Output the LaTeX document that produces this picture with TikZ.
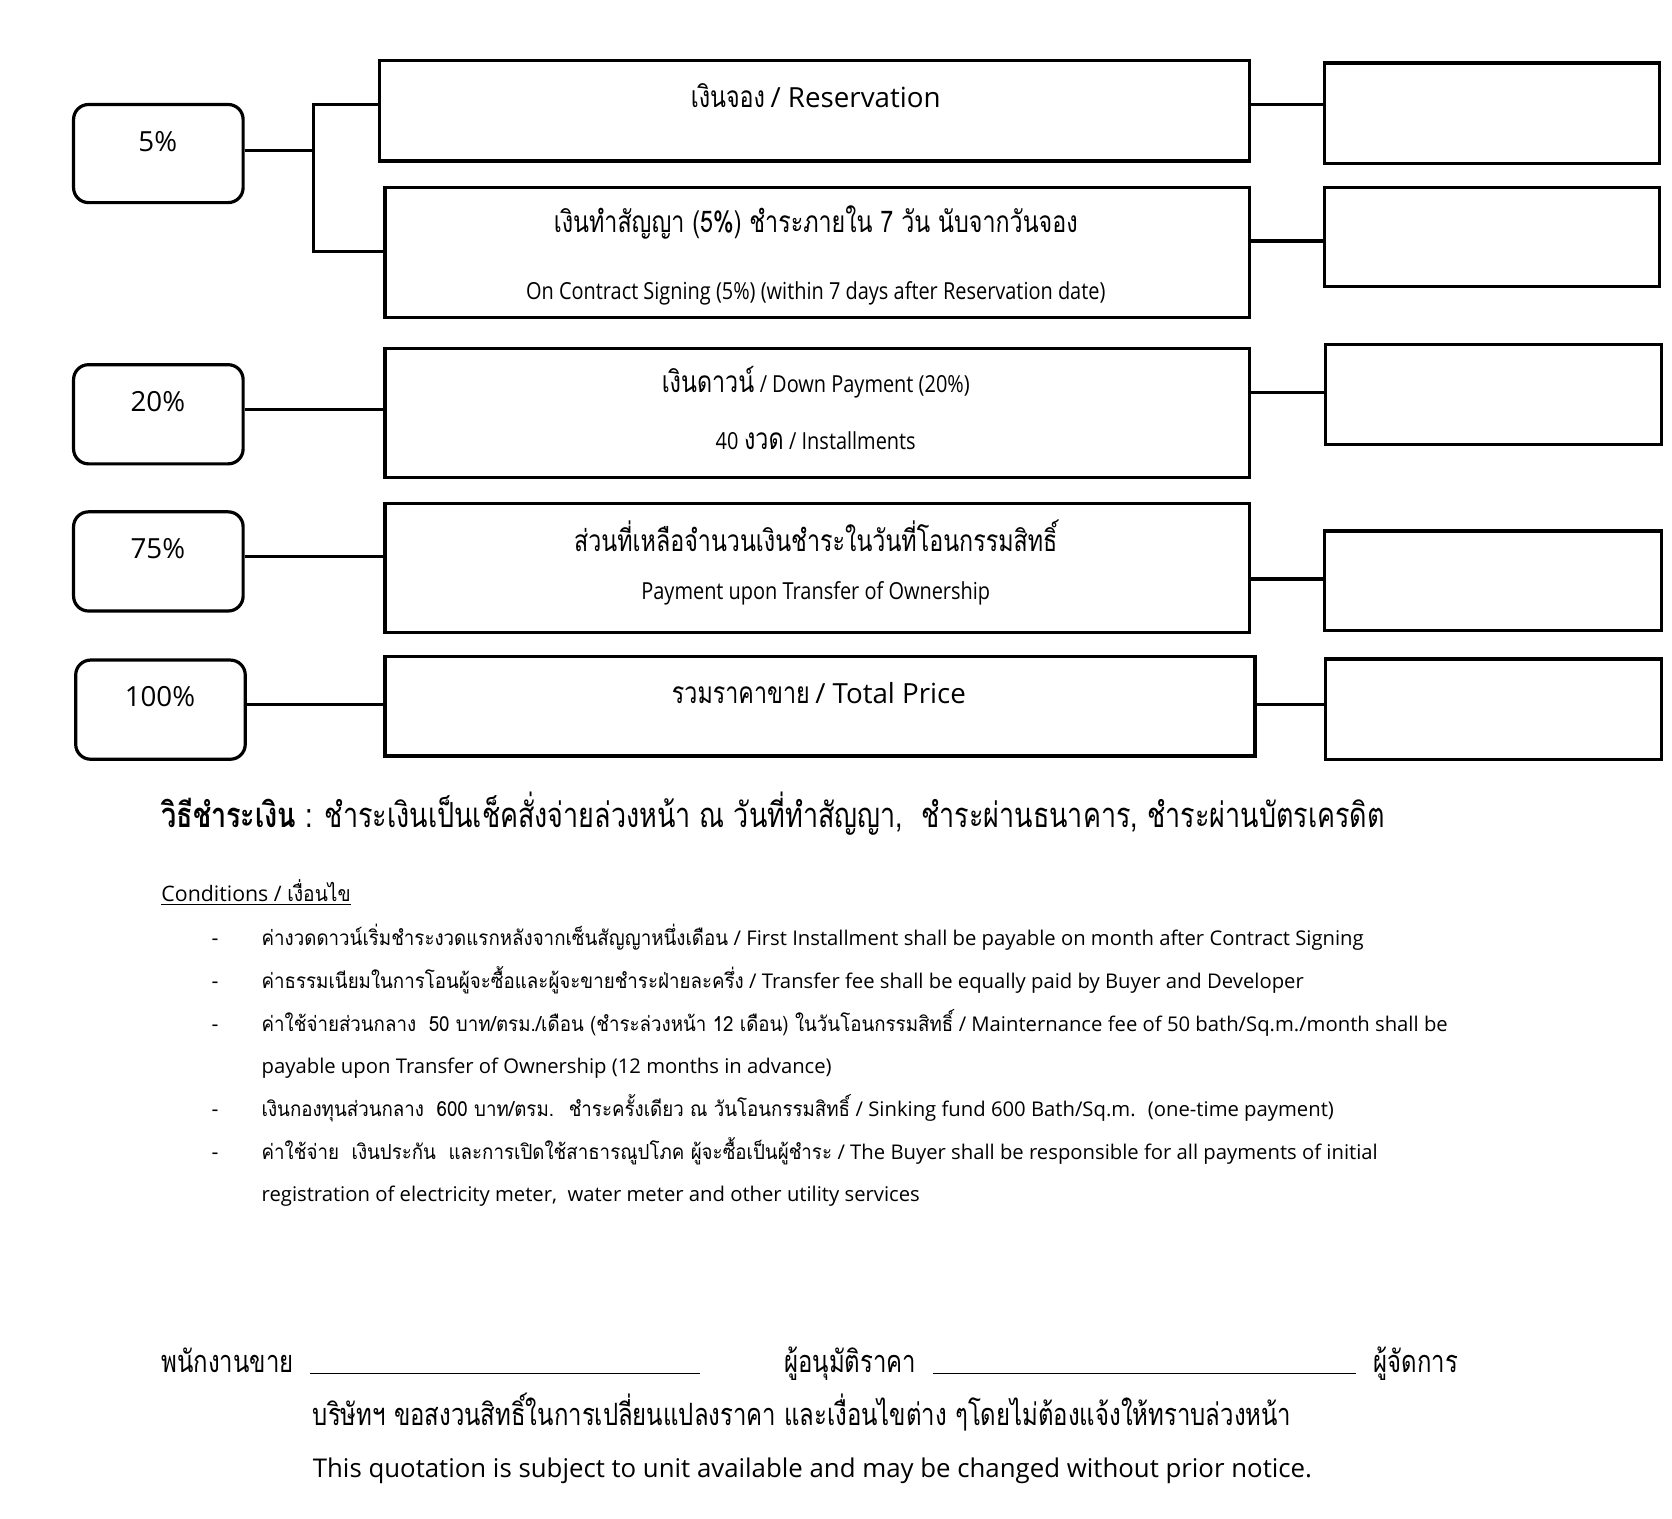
\documentclass[tikz,border=0pt]{standalone}
\usepackage{fontspec}
\setmainfont{Open Sans}
\newfontfamily\thai[Script=Thai]{Loma}
\newfontfamily\thaic[Script=Thai,FakeStretch=0.78]{Loma}
\newfontfamily\thaim[Script=Thai,FakeStretch=0.9]{Loma}
\newfontfamily\lt[FakeStretch=0.85]{Open Sans}
\usetikzlibrary{fit}
\newcommand{\fs}[1]{\fontsize{#1}{#1}\selectfont}
\begin{document}
\begin{tikzpicture}[x=0.5pt,y=-0.5pt,
  box/.style={draw, line width=1.5pt, inner sep=0pt},
  pbox/.style={box, rounded corners=7pt},
  conn/.style={line width=1.5pt},
  txt/.style={inner sep=0pt, anchor=base},
  ltxt/.style={inner sep=0pt, anchor=base west},
  sig/.style={line width=0.8pt}]
\useasboundingbox (0,0) rectangle (1568,1424);
\fill[white] (0,0) rectangle (1568,1424);

% percentage boxes
\node[pbox, fit={(69,98)(228,190)}] (p5) {};
\node[pbox, fit={(69,342)(228,435)}] (p20) {};
\node[pbox, fit={(69,480)(228,573)}] (p75) {};
\node[pbox, fit={(71,619)(230,712)}] (p100) {};
\node[txt] (t5) at (148,142) {\fs{13}5\%};
\node[txt] (t20) at (148,386) {\fs{13}20\%};
\node[txt] (t75) at (148,524) {\fs{13}75\%};
\node[txt] (t100) at (150,663) {\fs{13}100\%};

% middle boxes
\node[box, fit={(356,57)(1172,151)}] (res) {};
\node[box, fit={(361,176)(1172,298)}] (con) {};
\node[box, fit={(361,327)(1172,448)}] (dp) {};
\node[box, fit={(361,472)(1172,593)}] (rem) {};
\node[box, fit={(361,616)(1177,709)}] (tot) {};

% right boxes
\node[box, fit={(1242,59)(1556,153)}] (r1) {};
\node[box, fit={(1242,176)(1556,269)}] (r2) {};
\node[box, fit={(1243,323)(1558,417)}] (r3) {};
\node[box, fit={(1242,498)(1558,591)}] (r4) {};
\node[box, fit={(1243,618)(1558,712)}] (r5) {};

% texts in middle boxes
\node[txt] (tres) at (765,101) {{\thaic\fs{14}เงินจอง} {\fs{13}/ Reservation}};
\node[txt] (tcon1) at (765,218) {\thaic\fs{14}เงินทำสัญญา (5\%) ชำระภายใน 7 วัน นับจากวันจอง};
\node[txt] (tcon2) at (765,281) {\lt\fs{11}On Contract Signing (5\%) (within 7 days after Reservation date)};
\node[txt] (tdp1) at (765,368) {{\thaic\fs{14}เงินดาวน์} {\lt\fs{11}/ Down Payment (20\%)}};
\node[txt] (tdp2) at (765,422) {{\lt\fs{11}40} {\thaic\fs{14}งวด} {\lt\fs{11}/ Installments}};
\node[txt] (trem1) at (765,517) {\thaic\fs{14}ส่วนที่เหลือจำนวนเงินชำระในวันที่โอนกรรมสิทธิ์};
\node[txt] (trem2) at (765,562) {\lt\fs{11}Payment upon Transfer of Ownership};
\node[txt] (ttot) at (768,660) {{\thaic\fs{14}รวมราคาขาย} {\fs{13}/ Total Price}};

% connectors
\coordinate (j) at (294,141);
\draw[conn] (p5.east |- j) -- (j);
\draw[conn] (res.west |- 0,98) -| (294,236) -- (con.west |- 0,236);
\draw[conn] (res.east |- 0,98) -- (r1.west |- 0,98);
\draw[conn] (con.east |- 0,226) -- (r2.west |- 0,226);
\draw[conn] (p20.east |- 0,384) -- (dp.west |- 0,384);
\draw[conn] (dp.east |- 0,368) -- (r3.west |- 0,368);
\draw[conn] (p75.east |- 0,522) -- (rem.west |- 0,522);
\draw[conn] (rem.east |- 0,543) -- (r4.west |- 0,543);
\draw[conn] (p100.east |- 0,661) -- (tot.west |- 0,661);
\draw[conn] (tot.east |- 0,661) -- (r5.west |- 0,661);

% payment method
\node[ltxt] (pay) at (151,776) {\thaic\fs{16.2}{\bfseries วิธีชำระเงิน} : ชำระเงินเป็นเช็คสั่งจ่ายล่วงหน้า ณ วันที่ทำสัญญา,~ ชำระผ่านธนาคาร, ชำระผ่านบัตรเครดิต};

% conditions
\node[ltxt] (cond) at (151,845) {\fs{10}\underline{Conditions / {\thaim เงื่อนไข}}};
\foreach \yy/\nm in {887/d1,927/d2,967/d3,1047/d4,1087/d5}{
  \node[ltxt] (\nm) at (198,\yy) {\fs{10}-};
}
\node[ltxt] (c1) at (245,887) {{\thaim\fs{9.75}ค่างวดดาวน์เริ่มชำระงวดแรกหลังจากเซ็นสัญญาหนึ่งเดือน} {\fs{9.5}/ First Installment shall be payable on month after Contract Signing}};
\node[ltxt] (c2) at (245,927) {{\thaim\fs{9.75}ค่าธรรมเนียมในการโอนผู้จะซื้อและผู้จะขายชำระฝ่ายละครึ่ง} {\fs{9.5}/ Transfer fee shall be equally paid by Buyer and Developer}};
\node[ltxt] (c3) at (245,967) {{\thaim\fs{9.75}ค่าใช้จ่ายส่วนกลาง~ 50 บาท/ตรม./เดือน (ชำระล่วงหน้า 12 เดือน) ในวันโอนกรรมสิทธิ์} {\fs{9.5}/ Mainternance fee of 50 bath/Sq.m./month shall be}};
\node[ltxt] (c3b) at (245,1007) {\fs{9.5}payable upon Transfer of Ownership (12 months in advance)};
\node[ltxt] (c4) at (245,1047) {{\thaim\fs{9.75}เงินกองทุนส่วนกลาง~ 600 บาท/ตรม.~ ชำระครั้งเดียว ณ วันโอนกรรมสิทธิ์} {\fs{9.5}/ Sinking fund 600 Bath/Sq.m.~ (one-time payment)}};
\node[ltxt] (c5) at (245,1087) {{\thaim\fs{9.75}ค่าใช้จ่าย~ เงินประกัน~ และการเปิดใช้สาธารณูปโภค ผู้จะซื้อเป็นผู้ชำระ} {\fs{9.5}/ The Buyer shall be responsible for all payments of initial}};
\node[ltxt] (c5b) at (245,1127) {\fs{9.5}registration of electricity meter,~ water meter and other utility services};

% signatures
\node[ltxt] (s1) at (151,1287) {\thaic\fs{14.4}พนักงานขาย};
\coordinate (l1a) at (291,1288);
\coordinate (l1b) at (656,1288);
\draw[sig] (l1a) -- (l1b);
\node[ltxt] (s2) at (735,1287) {\thaic\fs{14.4}ผู้อนุมัติราคา};
\coordinate (l2a) at (875,1288);
\coordinate (l2b) at (1272,1288);
\draw[sig] (l2a) -- (l2b);
\node[ltxt] (s3) at (1288,1287) {\thaic\fs{14.4}ผู้จัดการ};

% footer
\node[ltxt] (f1) at (293,1337) {\thaic\fs{14.4}บริษัทฯ ขอสงวนสิทธิ์ในการเปลี่ยนแปลงราคา และเงื่อนไขต่าง ๆโดยไม่ต้องแจ้งให้ทราบล่วงหน้า};
\node[ltxt] (f2) at (293,1386) {\fs{12.1}This quotation is subject to unit available and may be changed without prior notice.};
\end{tikzpicture}
\end{document}
